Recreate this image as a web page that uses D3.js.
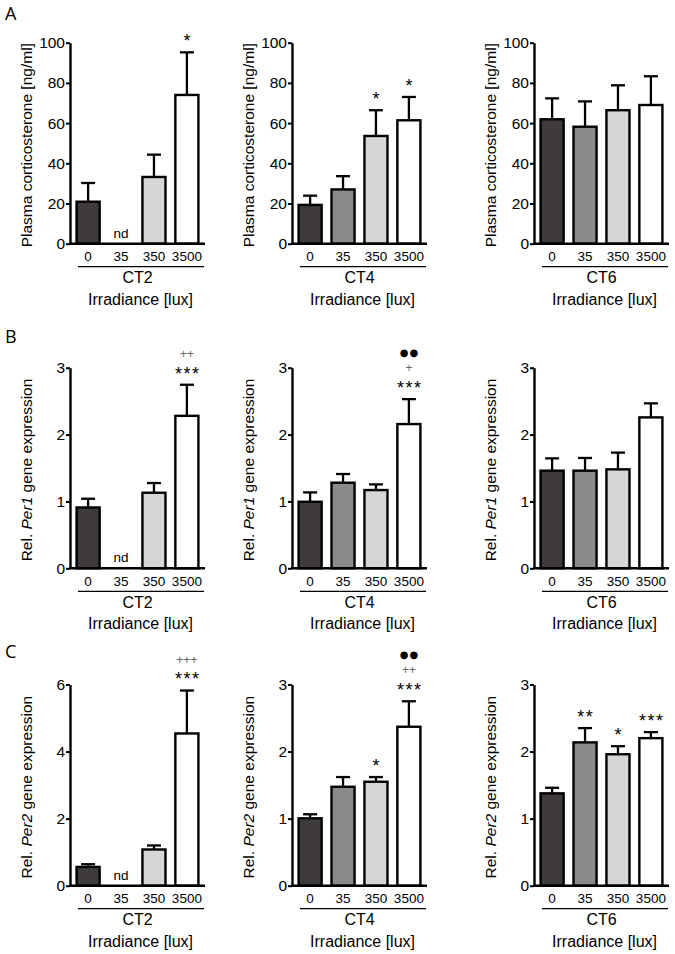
<!DOCTYPE html>
<html><head><meta charset="utf-8">
<script src="https://cdn.jsdelivr.net/npm/d3@7"></script>
<style>body{margin:0;background:#fff} svg{display:block}</style>
</head><body>
<script>
// ---------- data ----------
const categories = ["0", "35", "350", "3500"];
const timepoints = ["CT2", "CT4", "CT6"];
const xTitle = "Irradiance [lux]";
const panelLetters = ["A", "B", "C"];

// A: plasma corticosterone (ng/ml)
const corticoMean = [[20.9, null, 33.2, 74.0], [19.3, 27.0, 53.6, 61.4], [61.9, 58.2, 66.4, 69.0]];
const corticoSEM  = [[9.3, null, 11.1, 21.2], [4.6, 6.6, 12.8, 11.6], [10.4, 12.6, 12.4, 14.3]];
const corticoTicks = [[0, 20, 40, 60, 80, 100], [0, 20, 40, 60, 80, 100], [0, 20, 40, 60, 80, 100]];
const corticoSig = [[[], [], [], ["*"]], [[], [], ["*"], ["*"]], [[], [], [], []]];

// B: Per1
const per1Mean = [[0.91, null, 1.13, 2.28], [0.995, 1.28, 1.17, 2.157], [1.46, 1.46, 1.48, 2.257]];
const per1SEM  = [[0.13, null, 0.145, 0.465], [0.14, 0.13, 0.085, 0.373], [0.184, 0.19, 0.25, 0.21]];
const per1Ticks = [[0, 1, 2, 3], [0, 1, 2, 3], [0, 1, 2, 3]];
const per1Sig = [[[], [], [], ["***", "++"]], [[], [], [], ["***", "+", "●●"]], [[], [], [], []]];

// C: Per2
const per2Mean = [[0.56, null, 1.08, 4.54], [1.005, 1.475, 1.55, 2.37], [1.377, 2.137, 1.96, 2.2]];
const per2SEM  = [[0.08, null, 0.12, 1.28], [0.06, 0.145, 0.07, 0.38], [0.083, 0.213, 0.12, 0.09]];
const per2Ticks = [[0, 2, 4, 6], [0, 1, 2, 3], [0, 1, 2, 3]];
const per2Sig = [[[], [], [], ["***", "+++"]], [[], [], ["*"], ["***", "++", "●●"]], [[], ["**"], ["*"], ["***"]]];

const barColors = ["#3f3a3d", "#8b898a", "#d6d6d6", "#ffffff"];

// ---------- layout ----------
const W = 675, H = 954;
const colX = [70, 292, 534];
const plotW = 135;
const rows = [
  {top: 42.7, bottom: 243.7, mean: corticoMean, sem: corticoSEM, ticks: corticoTicks, sig: corticoSig, label: "cort", letterY: 20},
  {top: 367.7, bottom: 568.3, mean: per1Mean, sem: per1SEM, ticks: per1Ticks, sig: per1Sig, label: "Per1", letterY: 343},
  {top: 684.5, bottom: 885.7, mean: per2Mean, sem: per2SEM, ticks: per2Ticks, sig: per2Sig, label: "Per2", letterY: 658}
];
const SANS = "Liberation Sans, Arial, sans-serif";
const OPEN = "Open Sans, sans-serif";

const svg = d3.select("body").append("svg").attr("width", W).attr("height", H);

rows.forEach((row, ri) => {
  svg.append("text").attr("x", 5).attr("y", row.letterY)
    .attr("font-family", OPEN).attr("font-size", 18).attr("fill", "#000")
    .text(panelLetters[ri]);

  timepoints.forEach((tp, ci) => {
    const x0 = colX[ci];
    const ticks = row.ticks[ci];
    const y = d3.scaleLinear().domain([0, d3.max(ticks)]).range([row.bottom, row.top]);
    const x = d3.scaleBand().domain(categories).range([x0, x0 + plotW]).paddingInner(0.3).paddingOuter(0.2);
    const g = svg.append("g");
    const data = categories.map((c, i) => ({c, i, m: row.mean[ci][i], s: row.sem[ci][i], sig: row.sig[ci][i]}));

    // error bars
    const eb = g.selectAll(".eb").data(data.filter(d => d.m != null)).enter().append("g");
    eb.append("line")
      .attr("x1", d => x(d.c) + x.bandwidth() / 2).attr("x2", d => x(d.c) + x.bandwidth() / 2)
      .attr("y1", d => y(d.m)).attr("y2", d => y(d.m + d.s))
      .attr("stroke", "#000").attr("stroke-width", 2.3);
    eb.append("line")
      .attr("x1", d => x(d.c) + x.bandwidth() / 2 - 7).attr("x2", d => x(d.c) + x.bandwidth() / 2 + 7)
      .attr("y1", d => y(d.m + d.s)).attr("y2", d => y(d.m + d.s))
      .attr("stroke", "#000").attr("stroke-width", 2.3);

    // bars
    g.selectAll(".bar").data(data.filter(d => d.m != null)).enter().append("rect")
      .attr("x", d => x(d.c)).attr("width", x.bandwidth())
      .attr("y", d => y(d.m)).attr("height", d => y(0) - y(d.m))
      .attr("fill", d => barColors[d.i]).attr("stroke", "#000").attr("stroke-width", 2.4);

    // nd
    g.selectAll(".nd").data(data.filter(d => d.m == null)).enter().append("text")
      .attr("x", d => x(d.c) + x.bandwidth() / 2).attr("y", y(0) - 6)
      .attr("text-anchor", "middle").attr("font-family", SANS).attr("font-size", 13.5).attr("fill", "#000").text("nd");

    // significance marks
    data.filter(d => d.m != null).forEach(d => {
      const top = y(d.m + d.s);
      d.sig.forEach((s, k) => {
        const cy = top - 15.5 - 15.5 * k;
        const cx = x(d.c) + x.bandwidth() / 2;
        let fs, off, fam = SANS, ls = 0, fill = "#000";
        if (s[0] === "*") { fs = 18; off = 10.3; ls = 1.5; }
        else if (s[0] === "+") { fs = 12; off = 4.0; ls = 0; fill = "#666"; }
        else { fs = 10; off = 3.5; fam = "DejaVu Sans, sans-serif"; ls = 1; }
        g.append("text").attr("x", cx + ls / 2).attr("y", cy + off)
          .attr("text-anchor", "middle").attr("font-family", fam).attr("font-size", fs)
          .attr("letter-spacing", ls).attr("fill", fill).text(s);
      });
    });

    // y axis
    const ya = g.append("g").attr("transform", `translate(${x0},0)`)
      .call(d3.axisLeft(y).tickValues(ticks).tickFormat(d3.format("d")).tickSize(4).tickSizeOuter(0).tickPadding(1));
    ya.attr("font-family", SANS);
    ya.select(".domain").attr("stroke-width", 2.4);
    ya.selectAll(".tick line").attr("stroke-width", 2);
    ya.selectAll("text").attr("font-size", 15.5).attr("fill", "#000");

    // x axis
    const xa = g.append("g").attr("transform", `translate(0,${y(0)})`)
      .call(d3.axisBottom(x).tickSize(0).tickPadding(8));
    xa.attr("font-family", SANS);
    xa.select(".domain").attr("stroke-width", 2.6).attr("d", `M${x0 - 1},0H${x0 + plotW}`);
    xa.selectAll("text").attr("font-size", 13.5).attr("fill", "#000");

    // underline + CT label + title
    g.append("line").attr("x1", x0 + 8).attr("x2", x0 + plotW - 1)
      .attr("y1", y(0) + 23).attr("y2", y(0) + 23).attr("stroke", "#000").attr("stroke-width", 1.2);
    g.append("text").attr("x", x0 + plotW / 2).attr("y", y(0) + 39.5)
      .attr("text-anchor", "middle").attr("font-family", SANS).attr("font-size", 16).attr("fill", "#000").text(tp);
    g.append("text").attr("x", x0 + plotW / 2 + 3).attr("y", y(0) + 61)
      .attr("text-anchor", "middle").attr("font-family", SANS).attr("font-size", 16).attr("fill", "#000").text(xTitle);

    // y label
    const cyl = (row.top + row.bottom) / 2 + 2;
    const yl = g.append("text").attr("transform", `translate(${x0 - 38},${cyl}) rotate(-90)`)
      .attr("text-anchor", "middle").attr("font-family", SANS).attr("font-size", 15.5).attr("fill", "#000");
    if (row.label === "cort") {
      yl.text("Plasma corticosterone [ng/ml]");
    } else {
      yl.append("tspan").text("Rel. ");
      yl.append("tspan").attr("font-style", "italic").text(row.label);
      yl.append("tspan").text(" gene expression");
    }
  });
});
</script>
</body></html>
